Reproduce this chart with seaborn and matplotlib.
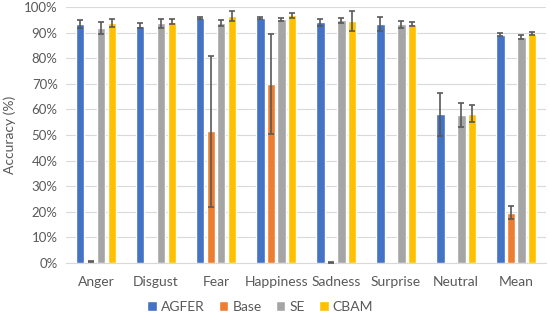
import numpy as np
import pandas as pd
import matplotlib
matplotlib.use('Agg')
import matplotlib.pyplot as plt
import seaborn as sns

emotions = ['Anger', 'Disgust', 'Fear', 'Happiness', 'Sadness', 'Surprise', 'Neutral', 'Mean']
models = ['AGFER', 'Base', 'SE', 'CBAM']

agfer = [93.4, 92.7, 95.8, 95.8, 94.0, 93.4, 58.1, 89.1]
agfer_err = [1.5, 1.0, 0.5, 0.5, 1.5, 2.7, 8.5, 0.6]
base = [0.5, 0.0, 51.5, 70.0, 0.3, 0.0, 0.0, 19.7]
base_err = [0.15, 0.0, 29.5, 19.5, 0.1, 0.0, 0.0, 2.6]
se = [91.8, 93.6, 93.6, 95.2, 94.9, 93.2, 57.7, 88.4]
se_err = [2.5, 1.8, 1.2, 0.5, 1.0, 1.5, 4.7, 0.8]
cbam = [93.8, 94.3, 96.5, 96.7, 94.6, 93.2, 58.3, 89.6]
cbam_err = [1.5, 1.0, 1.8, 1.0, 3.8, 0.8, 3.3, 0.7]

colors = ['#4472C4', '#ED7D31', '#A5A5A5', '#FFC000']

vals = [agfer, base, se, cbam]
errs = [agfer_err, base_err, se_err, cbam_err]
rows = []
for m, v, e in zip(models, vals, errs):
    for emo, vi, ei in zip(emotions, v, e):
        rows.append({'Emotion': emo, 'Model': m, 'Accuracy': vi, 'Err': ei})
df = pd.DataFrame(rows)

sns.set_style('white')
plt.rcParams['font.family'] = ['Lato', 'DejaVu Sans']

fig = plt.figure(figsize=(5.5, 3.2), dpi=100)
ax = fig.add_axes([0.12, 0.178, 0.873, 0.8])

sns.barplot(data=df, x='Emotion', y='Accuracy', hue='Model', order=emotions,
            hue_order=models, palette=colors, width=0.70, gap=0.2,
            errorbar=None, ax=ax, saturation=1, zorder=3)

# error bars on top of each bar (patches are ordered by hue, then category)
bars = ax.patches[:len(df)]
for p, (_, r) in zip(bars, df.iterrows()):
    if r['Accuracy'] <= 0:
        continue
    xc = p.get_x() + p.get_width() / 2
    ax.errorbar(xc, r['Accuracy'], yerr=r['Err'], fmt='none', ecolor='#595959',
                elinewidth=1.2, capsize=2.5, capthick=1.2, zorder=4)

ax.set_ylim(0, 100)
ax.set_xlim(-0.5, len(emotions) - 0.5)
ax.set_yticks(np.arange(0, 101, 10))
ax.set_yticklabels([f'{t}%' for t in range(0, 101, 10)])
ax.yaxis.grid(True, color='#D9D9D9', linewidth=0.8, zorder=0)
ax.set_axisbelow(True)
for s in ['top', 'right', 'left']:
    ax.spines[s].set_visible(False)
ax.spines['bottom'].set_color('#D9D9D9')
ax.tick_params(axis='y', length=0, labelsize=9.5, colors='#595959', pad=6)
ax.tick_params(axis='x', length=0, labelsize=10, colors='#595959', pad=9)
ax.set_xlabel('')
ax.set_ylabel('Accuracy (%)', fontsize=10, color='#595959', labelpad=6)

ax.legend(loc='center', bbox_to_anchor=(0.473, 0.04), bbox_transform=fig.transFigure,
          ncol=4, frameon=False, fontsize=10, handlelength=0.7, handleheight=0.7,
          handletextpad=0.3, columnspacing=1.0, labelcolor='#595959')

fig.savefig('out.png', dpi=100)
